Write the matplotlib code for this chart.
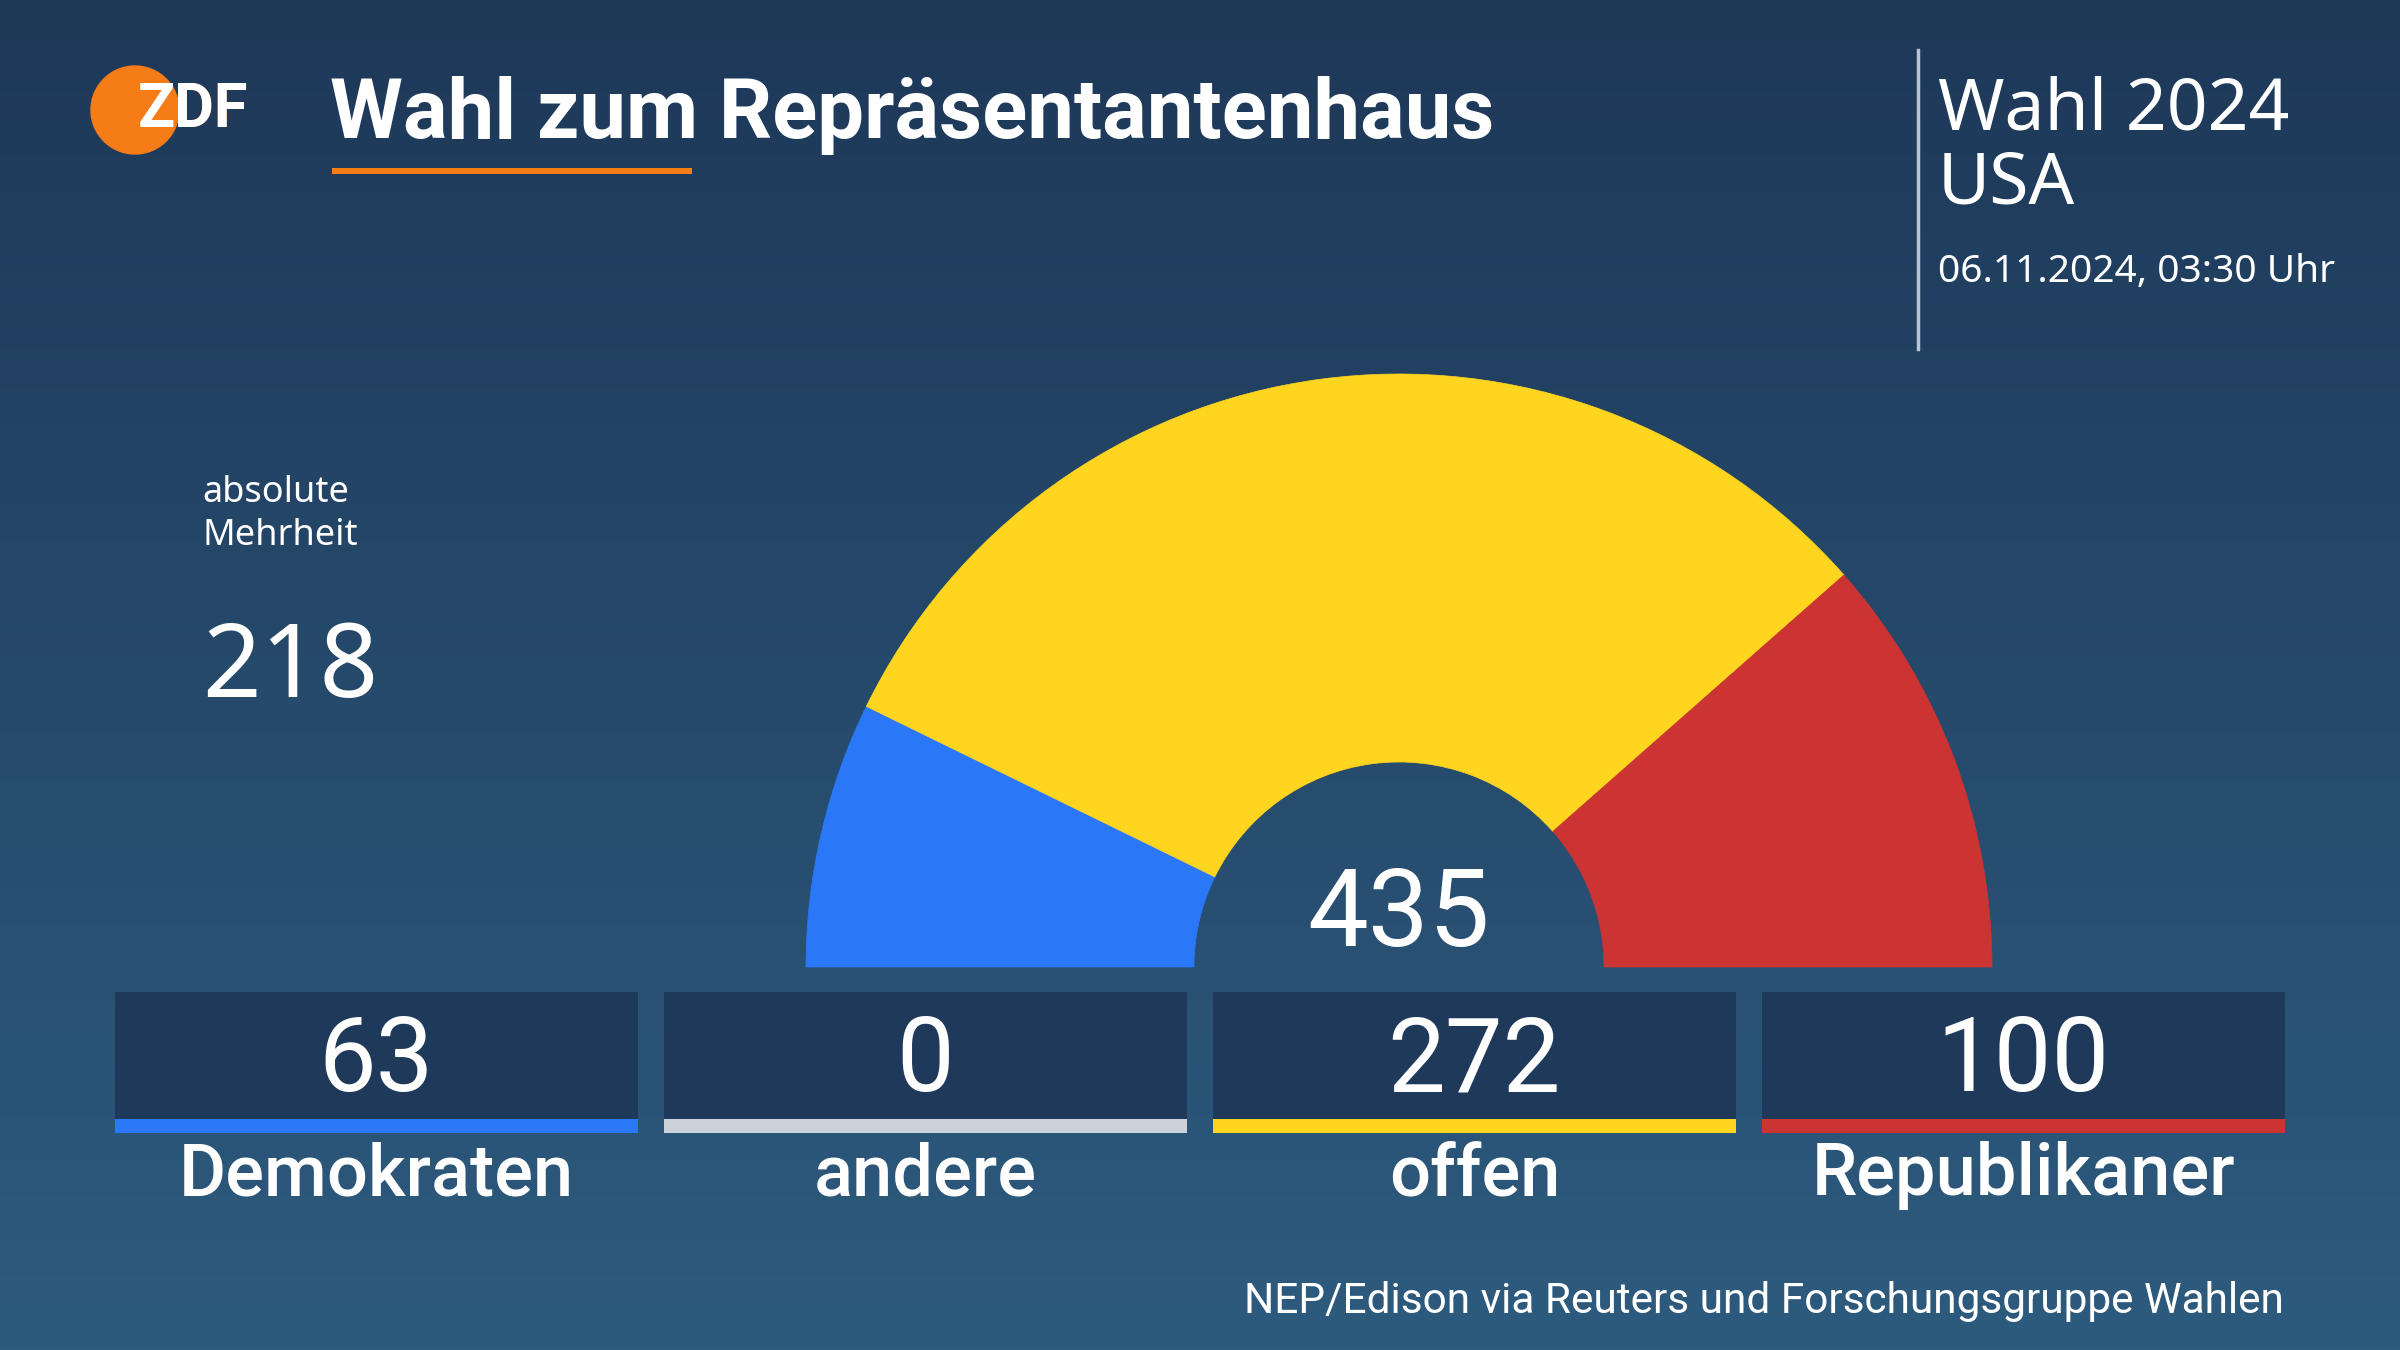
import numpy as np
import matplotlib
matplotlib.use("Agg")
import matplotlib.pyplot as plt
from matplotlib.patches import Wedge, Rectangle, Circle
from matplotlib import font_manager

# ---------------- data ----------------
title = "Wahl zum Repräsentantenhaus"
header_1 = "Wahl 2024"
header_2 = "USA"
timestamp = "06.11.2024, 03:30 Uhr"
majority_label = "absolute\nMehrheit"
majority = 218
total_seats = 435
parties = ["Demokraten", "andere", "offen", "Republikaner"]
seats = [63, 0, 272, 100]
party_colors = ["#2a77f8", "#cdd1da", "#ffd520", "#cc3333"]
source = "NEP/Edison via Reuters und Forschungsgruppe Wahlen"

# ---------------- fonts ----------------
names = {f.name for f in font_manager.fontManager.ttflist}
narrow = "Liberation Sans Narrow" if "Liberation Sans Narrow" in names else "Roboto"
plain = "Noto Sans" if "Noto Sans" in names else "DejaVu Sans"

W, H = 2400, 1350
fig = plt.figure(figsize=(24, 13.5), dpi=100)
ax = fig.add_axes([0, 0, 1, 1])
ax.set_xlim(0, W)
ax.set_ylim(0, H)
ax.axis("off")

def Y(py):
    return H - py

# background gradient
top = np.array([30, 56, 88]) / 255
bot = np.array([45, 91, 126]) / 255
t = np.linspace(0, 1, 400)[:, None]
grad = top[None, :] * (1 - t) + bot[None, :] * t
ax.imshow(grad[:, None, :], extent=[0, W, 0, H], aspect="auto", zorder=0, origin="upper")

# ---------------- logo ----------------
logo_c = (135, Y(110))
ax.add_patch(Circle(logo_c, 44, color="#f57c16", zorder=3))
ax.text(138, Y(110), "ZDF", color="#f57c16", fontsize=44, fontweight="bold",
        family=narrow, ha="left", va="center", zorder=4)
clip = Circle(logo_c, 44, transform=ax.transData)
tw = ax.text(138, Y(110), "ZDF", color="white", fontsize=44, fontweight="bold",
             family=narrow, ha="left", va="center", zorder=5)
tw.set_clip_path(clip)

# ---------------- title ----------------
ax.text(330, Y(138), title, color="white", fontsize=60, fontweight="bold",
        family=narrow, ha="left", va="baseline", zorder=4)
ax.add_patch(Rectangle((332, Y(174)), 360, 6, color="#f57c16", zorder=4, lw=0))

# right header
ax.plot([1918, 1918], [Y(50), Y(349)], color="#b8c4d2", lw=2.5, zorder=4)
ax.text(1938, Y(130), header_1, color="white", fontsize=51.5, family=plain,
        ha="left", va="baseline", zorder=4)
ax.text(1938, Y(204), header_2, color="white", fontsize=51.5, family=plain,
        ha="left", va="baseline", zorder=4)
ax.text(1938, Y(282), timestamp, color="white", fontsize=28, family=plain,
        ha="left", va="baseline", zorder=4)

# majority
ax.text(202, Y(545), majority_label, color="white", fontsize=26, family=plain,
        ha="left", va="baseline", linespacing=1.25, zorder=4)
ax.text(202, Y(697), str(majority), color="white", fontsize=74, family=plain,
        ha="left", va="baseline", zorder=4)

# ---------------- half donut ----------------
cx, cy = 1399, Y(967)
r_out, r_in = 593, 205
angle = 180.0
for s, c in zip(seats, party_colors):
    span = 180.0 * s / total_seats
    if s > 0:
        ax.add_patch(Wedge((cx, cy), r_out, angle - span, angle, width=r_out - r_in,
                           facecolor=c, edgecolor=c, lw=0.5, zorder=3))
    angle -= span

ax.text(cx, Y(946), str(total_seats), color="white", fontsize=78, family=narrow,
        ha="center", va="baseline", zorder=4)

# ---------------- boxes ----------------
box_w, gap = 523, 26
x0 = 115
for i, (p, s, c) in enumerate(zip(parties, seats, party_colors)):
    bx = x0 + i * (box_w + gap)
    ax.add_patch(Rectangle((bx, Y(1119)), box_w, 127, facecolor="#1e3959", lw=0, zorder=3))
    ax.add_patch(Rectangle((bx, Y(1133)), box_w, 14, facecolor=c, lw=0, zorder=3))
    ax.text(bx + box_w / 2, Y(1091), str(s), color="white", fontsize=74, family=narrow,
            ha="center", va="baseline", zorder=4)
    ax.text(bx + box_w / 2, Y(1195), p, color="white", fontsize=52, fontweight="medium",
            family=narrow, ha="center", va="baseline", zorder=4)

ax.text(2284, Y(1313), source, color="white", fontsize=30.5, family=narrow,
        ha="right", va="baseline", zorder=4)

fig.savefig("out.png", dpi=100, facecolor=fig.get_facecolor())
